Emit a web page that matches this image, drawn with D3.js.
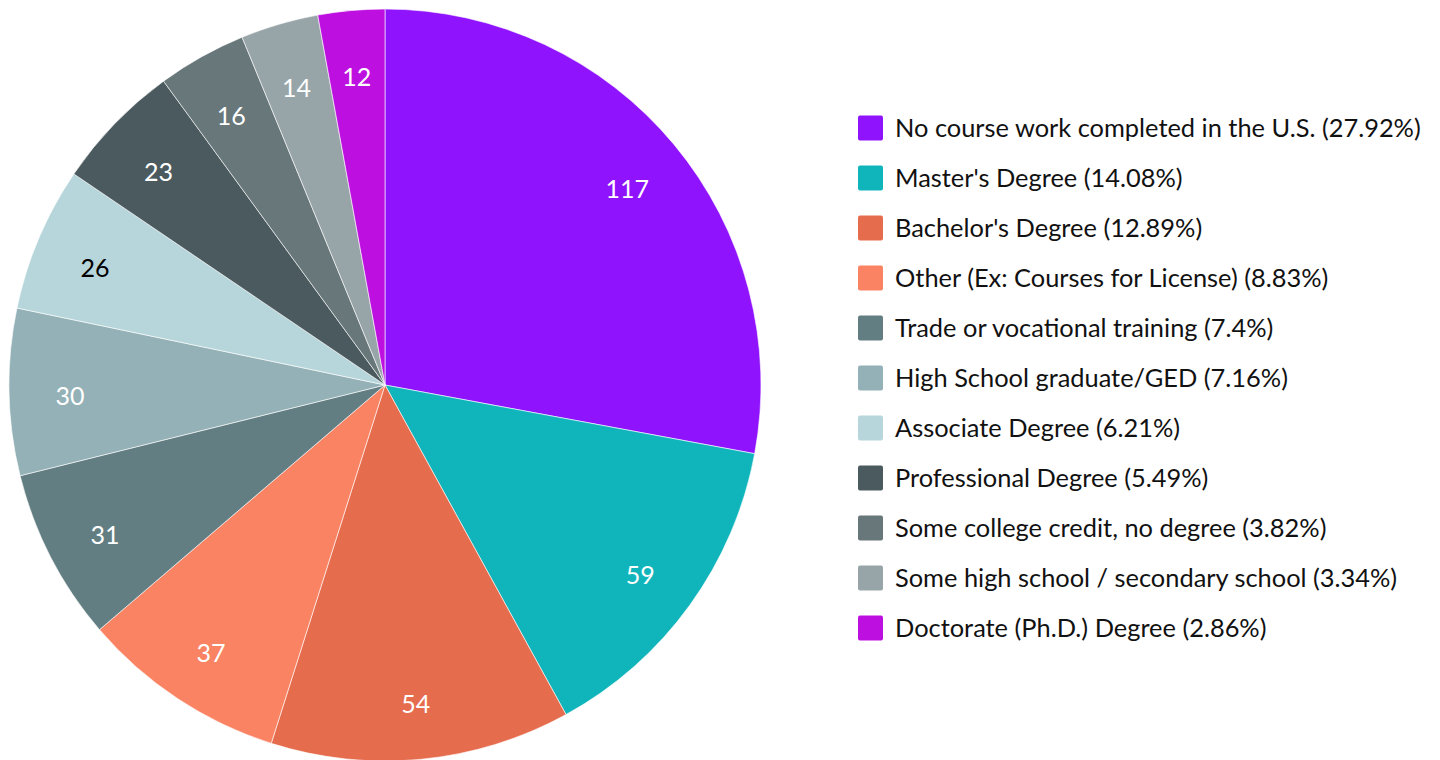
<!DOCTYPE html>
<html>
<head>
<meta charset="utf-8">
<script src="https://cdn.jsdelivr.net/npm/d3@7"></script>
<style>
  body { margin: 0; background: #fff; }
  svg { display: block; font-family: Lato, "Open Sans", sans-serif; }
</style>
</head>
<body>
<div id="chart"></div>
<script>
// data
var categories = [
  "No course work completed in the U.S.",
  "Master's Degree",
  "Bachelor's Degree",
  "Other (Ex: Courses for License)",
  "Trade or vocational training",
  "High School graduate/GED",
  "Associate Degree",
  "Professional Degree",
  "Some college credit, no degree",
  "Some high school / secondary school",
  "Doctorate (Ph.D.) Degree"
];
var counts = [117, 59, 54, 37, 31, 30, 26, 23, 16, 14, 12];
var colors = ["#9013fe", "#10b5bc", "#e66c4e", "#fa8363", "#627e82",
              "#93b1b6", "#b7d6db", "#4a5a5f", "#68777a", "#98a5a8", "#bd10e0"];
var labelColors = ["#fff", "#fff", "#fff", "#fff", "#fff",
                   "#fff", "#000", "#fff", "#fff", "#fff", "#fff"];

var svgWidth = 1440;
var svgHeight = 760;
var cx = 385, cy = 385, radius = 376;

var svg = d3.select("#chart")
  .append("svg")
  .attr("width", svgWidth)
  .attr("height", svgHeight);

var data = categories.map(function(c, i) {
  return { name: c, value: counts[i], i: i };
});
var total = d3.sum(counts);

var pie = d3.pie().sort(null).value(d => d.value);
var arc = d3.arc().innerRadius(0).outerRadius(radius);
var labelArc = d3.arc().innerRadius(315).outerRadius(315);

var pieGroup = svg.append("g")
  .attr("transform", `translate(${cx}, ${cy})`);

var arcs = pie(data);

pieGroup.selectAll("path")
  .data(arcs)
  .enter()
  .append("path")
  .attr("d", arc)
  .attr("fill", d => colors[d.data.i])
  .attr("stroke", "#fff")
  .attr("stroke-width", 0.6);

pieGroup.selectAll("text")
  .data(arcs)
  .enter()
  .append("text")
  .attr("transform", d => `translate(${labelArc.centroid(d)})`)
  .attr("text-anchor", "middle")
  .attr("dy", "0.58em")
  .attr("font-size", 25)
  .attr("fill", d => labelColors[d.data.i])
  .text(d => d.data.value);

// legend
var legendY = d3.scalePoint()
  .domain(categories)
  .range([128, 628]);

var legend = svg.append("g")
  .attr("transform", "translate(858, 0)");

var rows = legend.selectAll("g")
  .data(data)
  .enter()
  .append("g")
  .attr("transform", d => `translate(0, ${legendY(d.name)})`);

rows.append("rect")
  .attr("x", 0)
  .attr("y", -12.5)
  .attr("width", 25)
  .attr("height", 25)
  .attr("rx", 2)
  .attr("fill", d => colors[d.i]);

rows.append("text")
  .attr("x", 37)
  .attr("dy", "0.35em")
  .attr("font-size", 25.4)
  .attr("fill", "#111")
  .text(d => `${d.name} (${+(d.value / total * 100).toFixed(2)}%)`);
</script>
</body>
</html>
